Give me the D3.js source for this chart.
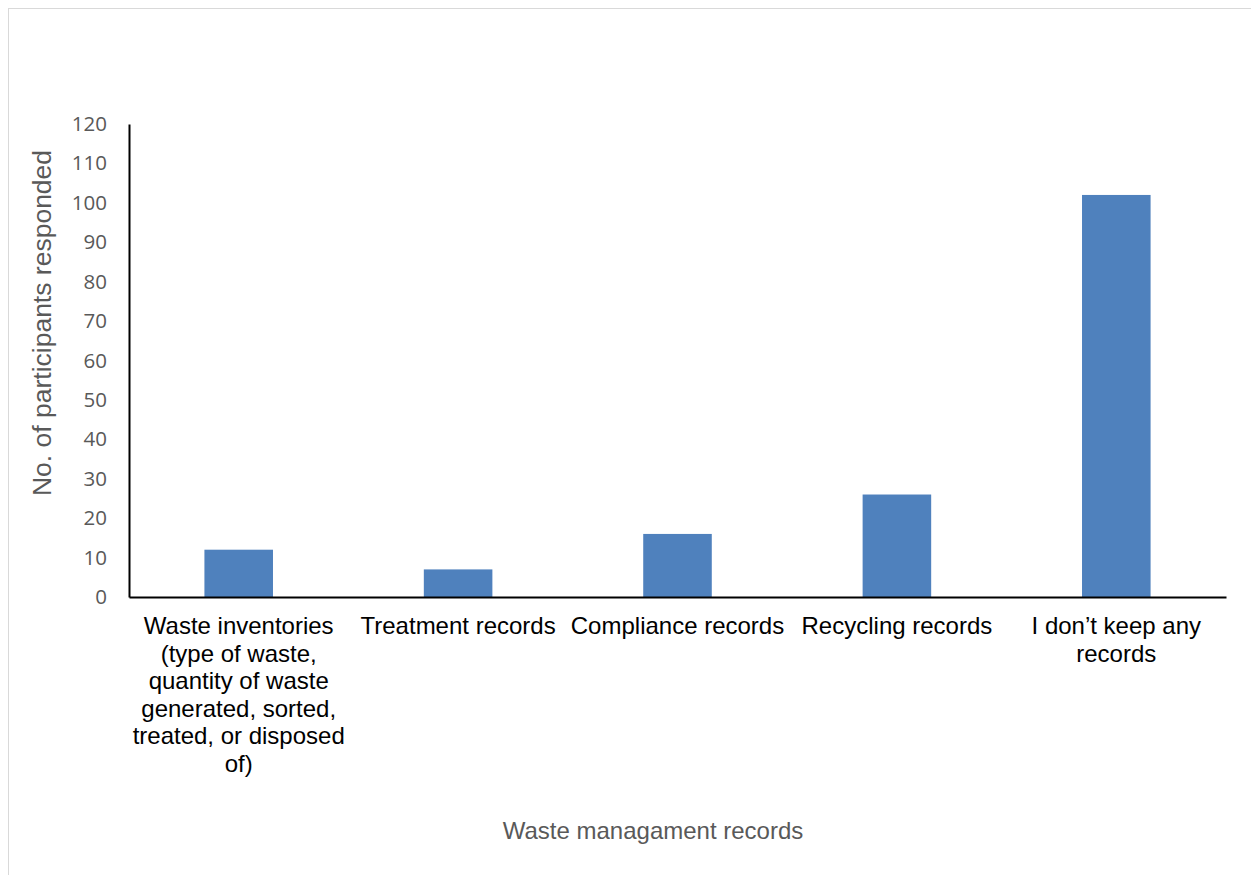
<!DOCTYPE html>
<html>
<head>
<meta charset="utf-8">
<script src="https://cdn.jsdelivr.net/npm/d3@7"></script>
<style>
  html, body { margin: 0; padding: 0; background: #fff; }
  svg { display: block; }
</style>
</head>
<body>
<svg id="chart" width="1251" height="875"></svg>
<script>
const categories = [
  ["Waste inventories", "(type of waste,", "quantity of waste", "generated, sorted,", "treated, or disposed", "of)"],
  ["Treatment records"],
  ["Compliance records"],
  ["Recycling records"],
  ["I don\u2019t keep any", "records"]
];
const categoryNames = ["Waste inventories", "Treatment records", "Compliance records", "Recycling records", "I don't keep any records"];
const values = [12, 7, 16, 26, 102];
const yTicks = [0, 10, 20, 30, 40, 50, 60, 70, 80, 90, 100, 110, 120];
const yTitle = "No. of participants responded";
const xTitle = "Waste managament records";

const svg = d3.select("#chart");
const W = 1251, H = 875;
const m = { left: 129, right: 25, top: 124, bottom: 278 };

// outer frame
svg.append("rect").attr("x", 8.5).attr("y", 8.5).attr("width", W).attr("height", H)
  .attr("fill", "#fff").attr("stroke", "#d9d9d9").attr("stroke-width", 1);

const x = d3.scaleBand().domain(categoryNames).range([m.left, W - m.right]).padding(0);
const y = d3.scaleLinear().domain([0, 120]).range([H - m.bottom, m.top]);
const barW = x.bandwidth() * 0.3125;

// bars
svg.append("g").selectAll("rect").data(values).join("rect")
  .attr("x", (d, i) => x(categoryNames[i]) + x.bandwidth() / 2 - barW / 2)
  .attr("y", d => y(d))
  .attr("width", barW)
  .attr("height", d => y(0) - y(d))
  .attr("fill", "#4f81bd");

// y axis
const yAxis = svg.append("g").attr("transform", `translate(${m.left},0)`)
  .call(d3.axisLeft(y).tickValues(yTicks).tickSize(0).tickPadding(22));
yAxis.select(".domain").attr("stroke", "#000").attr("stroke-width", 2);
yAxis.selectAll("text").attr("font-family", "'Open Sans', sans-serif")
  .attr("font-size", 20.5).attr("fill", "#595959");

// x axis
const xAxis = svg.append("g").attr("transform", `translate(0,${y(0)})`)
  .call(d3.axisBottom(x).tickSize(0).tickFormat(""));
xAxis.select(".domain").attr("stroke", "#000").attr("stroke-width", 2);

// category labels (multi-line)
const lab = svg.append("g");
categories.forEach((lines, i) => {
  const t = lab.append("text")
    .attr("x", x(categoryNames[i]) + x.bandwidth() / 2)
    .attr("y", y(0) + 37)
    .attr("text-anchor", "middle")
    .attr("font-family", "'Liberation Sans', Arial, sans-serif")
    .attr("font-size", 24)
    .attr("fill", "#000");
  lines.forEach((ln, j) => {
    t.append("tspan").attr("x", x(categoryNames[i]) + x.bandwidth() / 2)
      .attr("dy", j === 0 ? 0 : 27.5).text(ln);
  });
});

// axis titles
svg.append("text")
  .attr("transform", `translate(51,323) rotate(-90)`)
  .attr("text-anchor", "middle")
  .attr("font-family", "'Liberation Sans', Arial, sans-serif")
  .attr("font-size", 26.5).attr("fill", "#595959")
  .text(yTitle);

svg.append("text")
  .attr("x", 653).attr("y", 839)
  .attr("text-anchor", "middle")
  .attr("font-family", "'Liberation Sans', Arial, sans-serif")
  .attr("font-size", 24).attr("fill", "#595959")
  .text(xTitle);
</script>
</body>
</html>
